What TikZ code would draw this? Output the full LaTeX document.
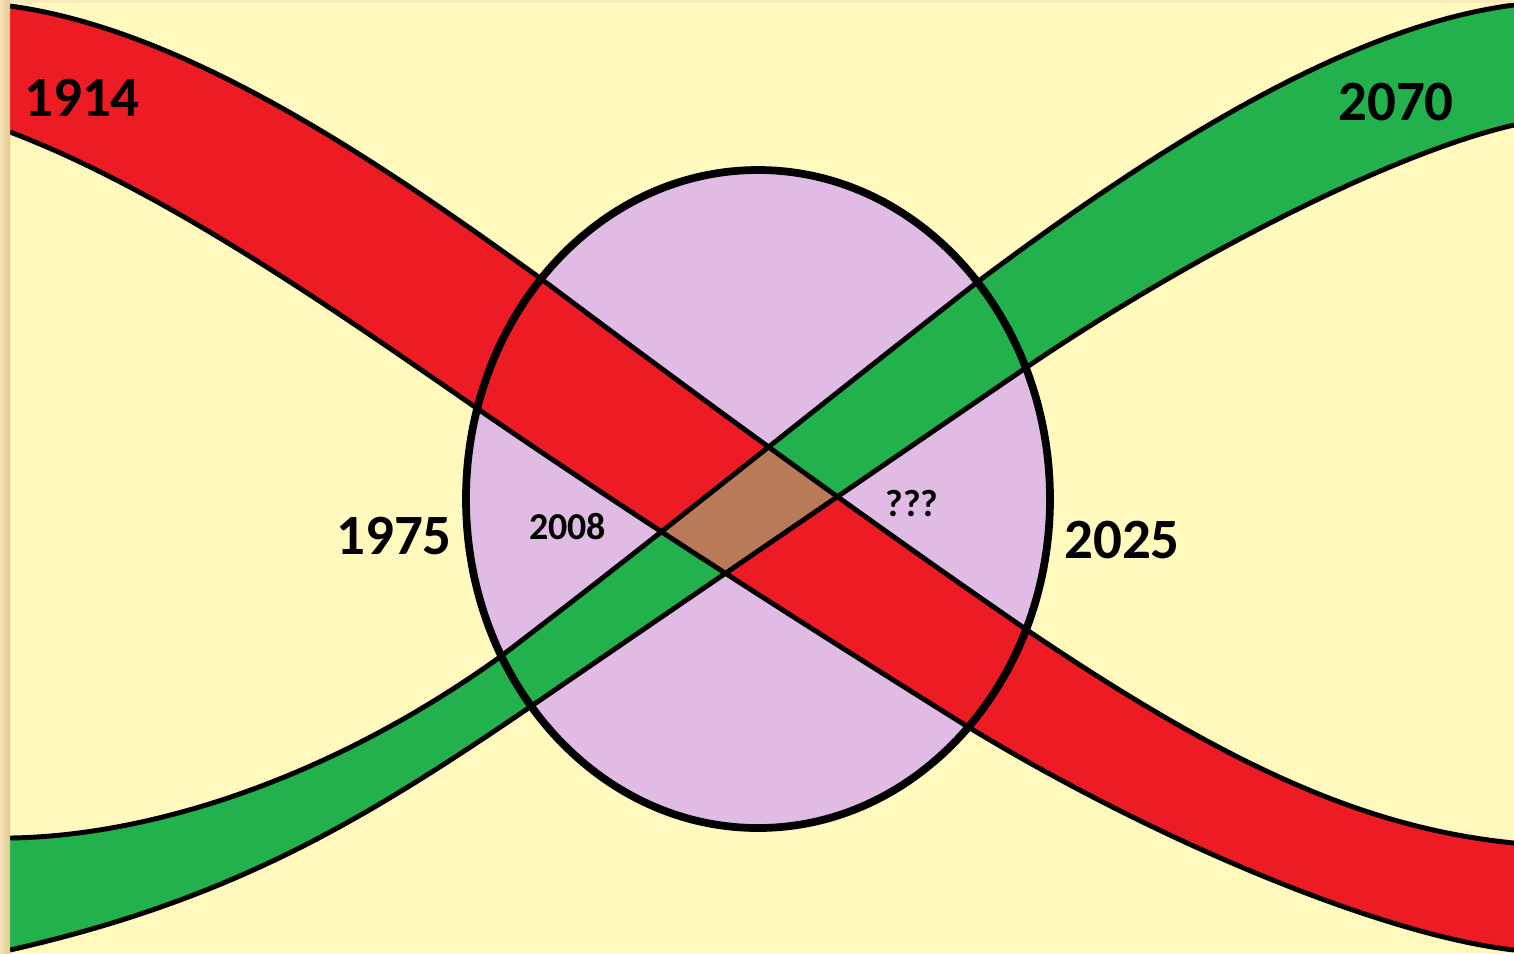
\documentclass[tikz,border=0pt]{standalone}
\usepackage{fontspec}
\setmainfont{Carlito}
\definecolor{bgyellow}{HTML}{FFF9BE}
\definecolor{bandred}{HTML}{ED1C24}
\definecolor{bandgreen}{HTML}{22B14C}
\definecolor{lav}{HTML}{E0BBE4}
\definecolor{brownx}{HTML}{B97A57}
\definecolor{woodA}{HTML}{F4E2B6}
\definecolor{woodB}{HTML}{E4C98C}
\tikzset{
  edgeline/.style={draw=black, line width=1.4pt},
  ringline/.style={draw=black, line width=2.2pt},
  bigyear/.style={inner sep=0pt, font=\fontsize{16.2}{19}\selectfont\bfseries},
  smallyear/.style={inner sep=0pt, font=\fontsize{10.8}{13}\selectfont\bfseries},
}
\begin{document}
\begin{tikzpicture}[x=0.01cm, y=-0.01cm]
\useasboundingbox (0,0) rectangle (1514,953);
% background
\fill[bgyellow] (0,0) rectangle (1514,953);
% ellipse fill
\fill[lav] (758,499) ellipse [x radius=292, y radius=329];
% band paths
\path[save path=\redband]
  (10,6) .. controls (190,30) and (390,170) .. (540,278)
  .. controls (700,398) and (867,520) .. (1027,630)
  .. controls (1227,765) and (1364,828) .. (1514,843)
  -- (1514,950) .. controls (1380,935) and (1150,838) .. (965,725)
  .. controls (805,625) and (635,517) .. (475,407)
  .. controls (325,303) and (160,189) .. (10,132) -- cycle;
\path[save path=\greenband]
  (10,838) .. controls (150,836) and (330,779) .. (500,657)
  .. controls (660,535) and (820,405) .. (980,280)
  .. controls (1150,153) and (1344,27) .. (1514,5)
  -- (1514,125) .. controls (1384,155) and (1177,265) .. (1027,367)
  -- (530,707) .. controls (360,823) and (230,900) .. (10,950) -- cycle;
\fill[bandred, use path=\redband];
\fill[bandgreen, use path=\greenband];
\begin{scope}
  \clip[use path=\redband];
  \fill[brownx, use path=\greenband];
\end{scope}
% band edges
\draw[edgeline] (10,6) .. controls (190,30) and (390,170) .. (540,278)
  .. controls (700,398) and (867,520) .. (1027,630)
  .. controls (1227,765) and (1364,828) .. (1514,843);
\draw[edgeline] (1514,950) .. controls (1380,935) and (1150,838) .. (965,725)
  .. controls (805,625) and (635,517) .. (475,407)
  .. controls (325,303) and (160,189) .. (10,132);
\draw[edgeline] (10,838) .. controls (150,836) and (330,779) .. (500,657)
  .. controls (660,535) and (820,405) .. (980,280)
  .. controls (1150,153) and (1344,27) .. (1514,5);
\draw[edgeline] (1514,125) .. controls (1384,155) and (1177,265) .. (1027,367)
  -- (530,707) .. controls (360,823) and (230,900) .. (10,950);
% ring outline
\draw[ringline] (758,499) ellipse [x radius=292, y radius=329];
% frame strips
\shade[left color=woodA, right color=woodB] (0,0) rectangle (10,953);
\fill[woodA!60!bgyellow] (10,0) rectangle (1514,3);
% labels
\node[bigyear] (y1914) at (82,98) {1914};
\node[bigyear] (y2070) at (1396,101.5) {2070};
\node[bigyear] (y1975) at (394,535.5) {1975};
\node[bigyear] (y2025) at (1122,540) {2025};
\node[smallyear] (y2008) at (567.5,527) {2008};
\node[smallyear] (yqqq) at (912,503.5) {???};
\end{tikzpicture}
\end{document}
